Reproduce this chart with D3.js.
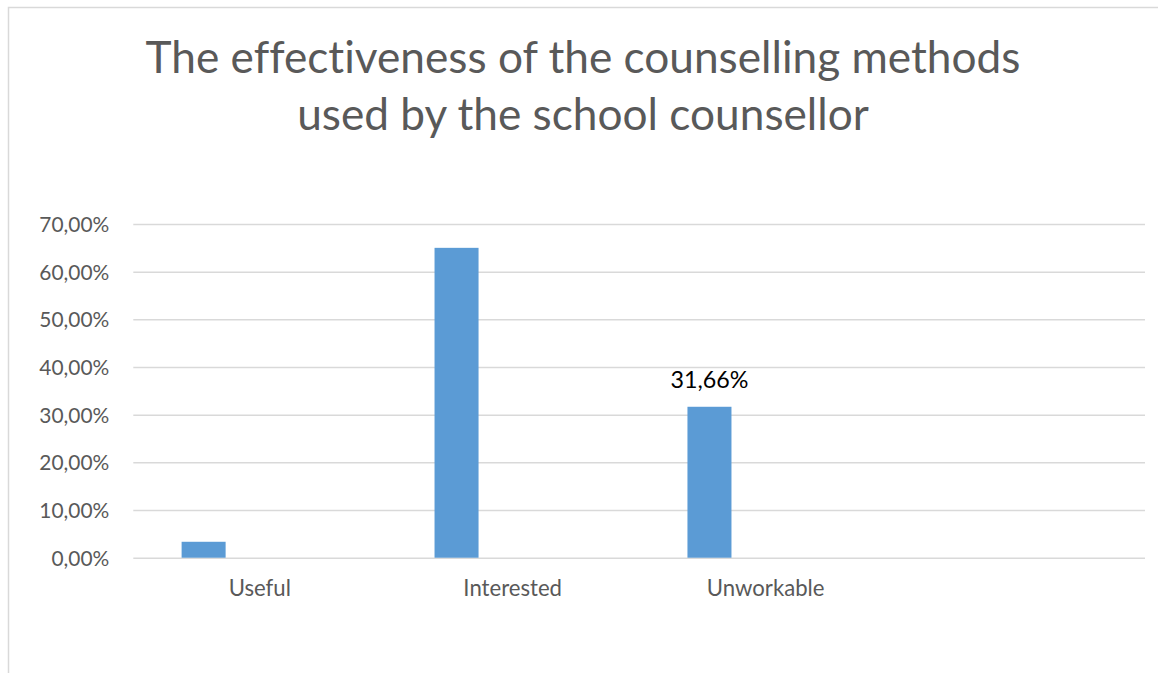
<!DOCTYPE html>
<html>
<head>
<meta charset="utf-8">
<script src="https://cdn.jsdelivr.net/npm/d3@7"></script>
<style>
  html, body { margin: 0; padding: 0; background: #ffffff; }
  svg { display: block; }
  text { font-family: Lato, "Open Sans", "Noto Sans", sans-serif; }
</style>
</head>
<body>
<svg id="chart" width="1158" height="673"></svg>
<script>
// Survey results: share of answers per category
const titleLines = ["The effectiveness of the counselling methods", "used by the school counsellor"];
const categories = ["Useful", "Interested", "Unworkable", ""];
const values = [0.0334, 0.65, 0.3166, null];
const showValueLabel = [false, false, true, false];
const yTicks = [0, 0.1, 0.2, 0.3, 0.4, 0.5, 0.6, 0.7];

const W = 1158, H = 673;
const plot = { left: 133.3, right: 1145, top: 224, bottom: 557.7 };
const gridColor = "#d9d9d9";
const textColor = "#595959";
const barColor = "#5b9bd5";

const locale = d3.formatLocale({ decimal: ",", thousands: ".", grouping: [3], currency: ["", "€"] });
const pct = locale.format(".2%");

const svg = d3.select("#chart");
svg.append("rect").attr("width", W).attr("height", H).attr("fill", "#fff");

// chart frame (top and left edges)
svg.append("path")
  .attr("d", `M8.5,${H} V7.5 H${W}`)
  .attr("fill", "none")
  .attr("stroke", gridColor)
  .attr("stroke-width", 1.5);

// scale a text's font-size so its rendered width hits a target
function fitWidth(sel, target) {
  sel.each(function () {
    const fs = parseFloat(this.getAttribute("font-size"));
    const w = this.getComputedTextLength();
    if (w > 0) this.setAttribute("font-size", (fs * target / w).toFixed(2));
  });
}

const x = d3.scaleBand().domain(categories).range([plot.left, plot.right]).padding(0);
const y = d3.scaleLinear().domain([0, 0.7]).range([plot.bottom, plot.top]);
const barOffset = 0.191, barWidth = 0.174;

// gridlines
const grid = svg.append("g")
  .attr("transform", `translate(${plot.left},0)`)
  .call(d3.axisLeft(y).tickValues(yTicks).tickSize(-(plot.right - plot.left)).tickFormat(""));
grid.select(".domain").remove();
grid.selectAll(".tick line").attr("stroke", gridColor).attr("stroke-width", 1.5);

// y tick labels
const yAxis = svg.append("g")
  .attr("transform", `translate(${plot.left},0)`)
  .call(d3.axisLeft(y).tickValues(yTicks).tickSize(0).tickPadding(24).tickFormat(pct));
yAxis.select(".domain").remove();
yAxis.selectAll("text")
  .attr("fill", textColor)
  .attr("font-family", "Lato, 'Open Sans', sans-serif")
  .attr("font-size", 20)
  .attr("dy", "0.36em");
fitWidth(yAxis.selectAll(".tick").filter(d => d === 0.7).select("text"), 70);
const yFs = yAxis.selectAll(".tick").filter(d => d === 0.7).select("text").attr("font-size");
yAxis.selectAll("text").attr("font-size", yFs);

// bars
svg.append("g").selectAll("rect")
  .data(categories.map((c, i) => ({ c, v: values[i], lab: showValueLabel[i] })).filter(d => d.v != null))
  .join("rect")
  .attr("x", d => x(d.c) + x.bandwidth() * barOffset)
  .attr("width", x.bandwidth() * barWidth)
  .attr("y", d => y(d.v))
  .attr("height", d => y(0) - y(d.v))
  .attr("fill", barColor);

// value labels
const vl = svg.append("g").selectAll("text")
  .data(categories.map((c, i) => ({ c, v: values[i], lab: showValueLabel[i] })).filter(d => d.lab))
  .join("text")
  .attr("x", d => x(d.c) + x.bandwidth() * (barOffset + barWidth / 2))
  .attr("y", d => y(d.v) - 18.4)
  .attr("text-anchor", "middle")
  .attr("fill", "#000")
  .attr("font-size", 22)
  .text(d => pct(d.v));
fitWidth(vl, 78);

// category axis
const xAxis = svg.append("g")
  .attr("transform", `translate(0,${plot.bottom})`)
  .call(d3.axisBottom(x).tickSize(0).tickPadding(0));
xAxis.select(".domain").remove();
xAxis.selectAll("text")
  .attr("fill", textColor)
  .attr("font-family", "Lato, 'Open Sans', sans-serif")
  .attr("font-size", 20)
  .attr("dy", null)
  .attr("y", 596 - plot.bottom);
fitWidth(xAxis.selectAll(".tick").filter(d => d === "Interested").select("text"), 98.7);
const xFs = xAxis.selectAll(".tick").filter(d => d === "Interested").select("text").attr("font-size");
xAxis.selectAll("text").attr("font-size", xFs);

// title
const title = svg.append("g").selectAll("text")
  .data(titleLines)
  .join("text")
  .attr("x", (8 + W) / 2)
  .attr("y", (d, i) => 72.7 + i * 57.3)
  .attr("text-anchor", "middle")
  .attr("fill", textColor)
  .attr("font-weight", 400)
  .attr("font-size", 40)
  .style("font-variant-ligatures", "none")
  .text(d => d);
fitWidth(title.filter((d, i) => i === 0), 875);
title.attr("font-size", title.filter((d, i) => i === 0).attr("font-size"));
</script>
</body>
</html>
